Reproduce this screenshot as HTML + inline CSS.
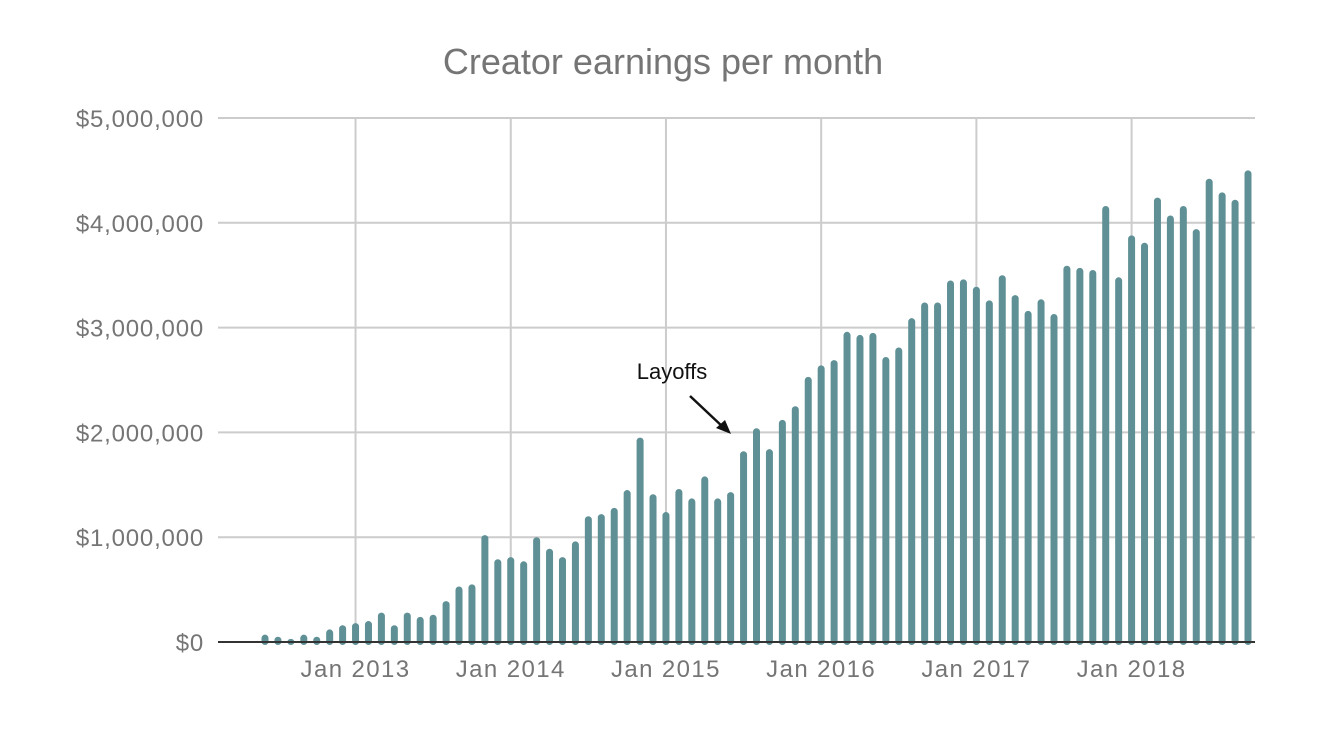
<!DOCTYPE html>
<html><head><meta charset="utf-8"><style>
body{margin:0;background:#fff;font-family:"Liberation Sans",Arial,sans-serif;}
</style></head><body>
<svg width="1324" height="734" viewBox="0 0 1324 734" xmlns="http://www.w3.org/2000/svg">
<text x="663" y="74" text-anchor="middle" font-size="36" fill="#757575">Creator earnings per month</text>
<g id="grid"></g>
<g id="bars"></g>
<g id="labels"></g>
<g>
<text x="672" y="379" text-anchor="middle" font-size="22" fill="#111">Layoffs</text>
<line x1="690" y1="396" x2="724" y2="428" stroke="#111" stroke-width="2.5"/>
<polygon points="731,434 716,428 725,420" fill="#111"/>
</g>
</svg>
<script>
const values=[0.07,0.05,0.03,0.07,0.05,0.12,0.16,0.18,0.2,0.28,0.16,0.28,0.24,0.26,0.39,0.53,0.55,1.02,0.79,0.81,0.77,1.0,0.89,0.81,0.96,1.2,1.22,1.28,1.45,1.95,1.41,1.24,1.46,1.37,1.58,1.37,1.43,1.82,2.04,1.84,2.12,2.25,2.53,2.64,2.69,2.96,2.93,2.95,2.72,2.81,3.09,3.24,3.24,3.45,3.46,3.39,3.26,3.5,3.31,3.16,3.27,3.13,3.59,3.57,3.55,4.16,3.48,3.88,3.81,4.24,4.07,4.16,3.94,4.42,4.29,4.22,4.5];
const yTicks=[0,1,2,3,4,5];
const yTickLabels=["$0","$1,000,000","$2,000,000","$3,000,000","$4,000,000","$5,000,000"];
const xTickIndex=[7,19,31,43,55,67];
const xTickLabels=["Jan 2013","Jan 2014","Jan 2015","Jan 2016","Jan 2017","Jan 2018"];
const NS="http://www.w3.org/2000/svg";
const X0=218,X1=1255,Y0=642,Y1=118;
function y(v){return Y0-(v/5)*(Y0-Y1);}
function x(i){return 265+i*((1248-265)/(values.length-1));}
const grid=document.getElementById('grid'),bars=document.getElementById('bars'),labels=document.getElementById('labels');
function mk(t,a,p){const e=document.createElementNS(NS,t);for(const k in a)e.setAttribute(k,a[k]);p.appendChild(e);return e;}
yTicks.forEach((v,i)=>{
 const l=mk('line',{x1:X0,x2:X1,y1:y(v),y2:y(v),stroke:i==0?'#333':'#ccc','stroke-width':2},grid);
 
 
 const t=mk('text',{x:204,y:y(v)+9,'text-anchor':'end','font-size':24,'letter-spacing':0.8,fill:'#757575'},labels);
 t.textContent=yTickLabels[i];
 
 
});
xTickIndex.forEach((idx,i)=>{
 const l=mk('line',{x1:x(idx),x2:x(idx),y1:Y1,y2:Y0,stroke:'#ccc','stroke-width':2},grid);
 
 
 const t=mk('text',{x:x(idx),y:677,'text-anchor':'middle','font-size':24,'letter-spacing':1.4,fill:'#757575'},labels);
 t.textContent=xTickLabels[i];
 
 
});
values.forEach((v,i)=>{
 const top=y(v);
 const r=mk('rect',{x:x(i)-3.5,y:top,width:7,height:Y0-top+3,rx:3.5,fill:'#5f9095'},bars);
 
 
});
const b=mk('line',{x1:X0,x2:X1,y1:Y0,y2:Y0,stroke:'#333','stroke-width':2},bars);


</script>
</body></html>
